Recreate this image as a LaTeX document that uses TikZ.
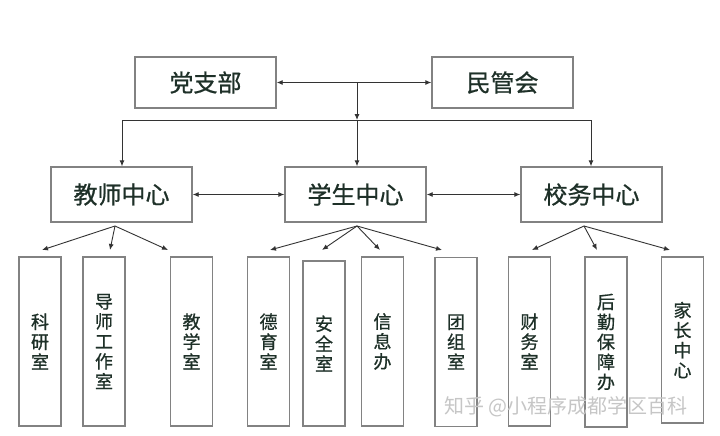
\documentclass[tikz,border=0pt]{standalone}
\usepackage{fontspec}
\newfontfamily\cjk[FakeBold=0.8]{Noto Sans CJK SC}
\newfontfamily\cjkwm{Noto Sans CJK SC}
\usetikzlibrary{arrows.meta}
\definecolor{boxgray}{HTML}{828282}
\definecolor{linegray}{HTML}{333333}
\definecolor{txt}{HTML}{1E3028}
\begin{document}
\begin{tikzpicture}[x=1pt,y=-1pt,
  box/.style={draw=boxgray, line width=1.4pt, fill=white, inner sep=0pt, text=txt},
  bigbox/.style={box, minimum width=141pt, minimum height=51pt, font=\cjk\fontsize{24}{26}\selectfont},
  midbox/.style={box, minimum width=141pt, minimum height=55pt, font=\cjk\fontsize{24}{26}\selectfont},
  tallbox/.style={box, minimum width=42pt, minimum height=169pt, align=center, font=\cjk\fontsize{18}{20}\selectfont},
  conn/.style={draw=linegray, line width=0.9pt},
  arr/.style={conn, -{Latex[length=6pt,width=5pt]}},
  darr/.style={conn, {Latex[length=6pt,width=5pt]}-{Latex[length=6pt,width=5pt]}},
  wm/.style={text=gray!45, font=\cjkwm\fontsize{20}{22}\selectfont, anchor=west, inner sep=0pt}]
\fill[white] (0,0) rectangle (720,436);
\useasboundingbox (0,0) rectangle (720,436);

% top
\node[bigbox] (dzb) at (205.5,82.5) {党支部};
\node[bigbox] (mgh) at (502.5,82.5) {民管会};
% middle
\node[midbox] (jszx) at (121.5,194.5) {教师中心};
\node[midbox] (xszx) at (355.5,194.5) {学生中心};
\node[midbox] (xwzx) at (591.5,194.5) {校务中心};
% bottom
\node[tallbox] (kys) at (40,341.5) {科\\研\\室};
\node[tallbox] (dsgzs) at (104,341.5) {导\\师\\工\\作\\室};
\node[tallbox] (jxs) at (191.5,341.5) {教\\学\\室};
\node[tallbox] (dys) at (268.5,341.5) {德\\育\\室};
\node[tallbox, minimum height=165pt] (aqs) at (324,343.5) {安\\全\\室};
\node[tallbox] (xxb) at (382.5,341.5) {信\\息\\办};
\node[tallbox] (tzs) at (456,342) {团\\组\\室};
\node[tallbox] (cws) at (529.5,341.5) {财\\务\\室};
\node[tallbox, minimum height=170pt] (hqbzb) at (606,342) {后\\勤\\保\\障\\办};
\node[tallbox, minimum height=166pt] (jzzx) at (682.5,340) {家\\长\\中\\心};

% top connectors
\coordinate (j1) at (357,82.5);
\coordinate (j2) at (357,120);
\coordinate (hl) at (122,120);
\coordinate (hr) at (591,120);
\draw[darr] (dzb.east) -- (mgh.west);
\draw[arr] (j1) -- (j2);
\draw[conn] (hl) -- (hr);
\draw[arr] (hl) -- (hl |- jszx.north);
\draw[arr] (j2) -- (j2 |- xszx.north);
\draw[arr] (hr) -- (hr |- xwzx.north);

% middle connectors
\draw[darr] (jszx.east) -- (xszx.west);
\draw[darr] (xszx.east) -- (xwzx.west);

% teacher center fan
\coordinate (s1) at (115,226);
\coordinate (t1) at (42,250);
\coordinate (t2) at (110,250);
\coordinate (t3) at (168,250);
\draw[arr] (s1) -- (t1);
\draw[arr] (s1) -- (t2);
\draw[arr] (s1) -- (t3);

% student center fan
\coordinate (s2) at (357,226);
\coordinate (t4) at (270,250);
\coordinate (t5) at (322,250);
\coordinate (t6) at (380,250);
\coordinate (t7) at (442,250);
\draw[arr] (s2) -- (t4);
\draw[arr] (s2) -- (t5);
\draw[arr] (s2) -- (t6);
\draw[arr] (s2) -- (t7);

% school affairs fan
\coordinate (s3) at (584,226);
\coordinate (t8) at (532,250);
\coordinate (t9) at (597,250);
\coordinate (t10) at (670,250);
\draw[arr] (s3) -- (t8);
\draw[arr] (s3) -- (t9);
\draw[arr] (s3) -- (t10);

% watermark
\node[wm] (wmk) at (444,407) {知乎 @小程序成都学区百科};
\end{tikzpicture}
\end{document}
